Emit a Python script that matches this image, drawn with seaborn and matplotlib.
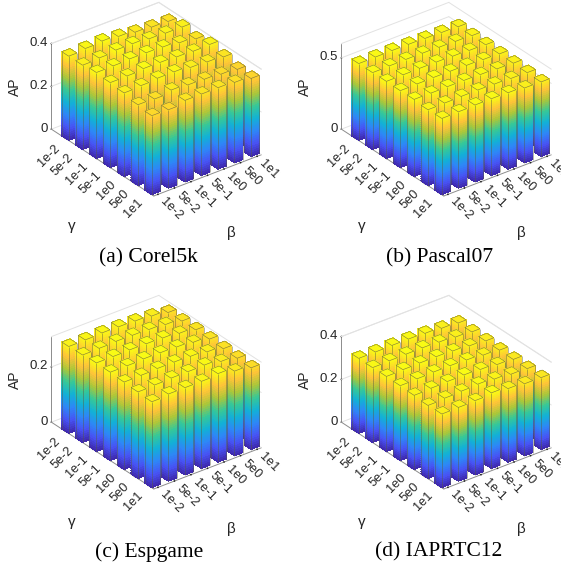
import numpy as np
import matplotlib
matplotlib.use('Agg')
import matplotlib.pyplot as plt
import seaborn as sns
from matplotlib.colors import LinearSegmentedColormap
from mpl_toolkits.mplot3d.art3d import Poly3DCollection, Line3DCollection

sns.set_theme(style='white')

param_labels = ['1e-2', '5e-2', '1e-1', '5e-1', '1e0', '5e0', '1e1']

# rows: gamma 1e-2 .. 1e1, columns: beta 1e-2 .. 1e1
corel = [[.394, .400, .405, .397, .387, .381, .378],
         [.394, .398, .405, .405, .398, .395, .394],
         [.402, .403, .406, .405, .402, .392, .381],
         [.397, .398, .403, .402, .398, .395, .397],
         [.391, .395, .400, .400, .391, .387, .381],
         [.378, .375, .387, .381, .378, .372, .365],
         [.369, .367, .381, .381, .381, .376, .365]]
pascal = [[.539, .540, .541, .540, .537, .534, .530],
          [.539, .541, .542, .541, .538, .535, .531],
          [.541, .542, .543, .542, .539, .535, .531],
          [.539, .541, .542, .541, .538, .534, .530],
          [.541, .540, .541, .540, .537, .532, .528],
          [.532, .534, .536, .536, .533, .528, .525],
          [.534, .536, .539, .539, .536, .525, .523]]
espgame = [[.315, .316, .318, .317, .315, .310, .300],
           [.317, .318, .320, .319, .317, .312, .302],
           [.321, .321, .322, .321, .319, .313, .303],
           [.320, .320, .322, .321, .319, .313, .302],
           [.317, .318, .320, .320, .318, .311, .300],
           [.314, .316, .318, .318, .319, .309, .298],
           [.311, .316, .316, .316, .321, .307, .296]]
iaprtc = [[.351, .351, .352, .352, .349, .343, .338],
          [.350, .352, .353, .353, .350, .344, .339],
          [.351, .353, .354, .354, .351, .345, .339],
          [.350, .352, .354, .354, .351, .344, .338],
          [.347, .350, .352, .353, .349, .342, .337],
          [.342, .346, .349, .352, .346, .339, .336],
          [.344, .345, .347, .354, .344, .337, .336]]

# values, z top, z ticks, z labels, caption, panel offset in pixels, caption centre in pixels
panels = [
    (corel, .40, [0, .2, .4], ['0', '0.2', '0.4'], '(a) Corel5k', (0, 0), (148, 258)),
    (pascal, .60, [0, .5], ['0', '0.5'], '(b) Pascal07', (290, 0), (440, 258)),
    (espgame, .31, [0, .2], ['0', '0.2'], '(c) Espgame', (0, 293), (149, 552)),
    (iaprtc, .40, [0, .2, .4], ['0', '0.2', '0.4'], '(d) IAPRTC12', (290, 293), (439, 552)),
]

parula = LinearSegmentedColormap.from_list('parula', [
    (0.2422, 0.1504, 0.6603), (0.2810, 0.3228, 0.9579), (0.1786, 0.5289, 0.9682),
    (0.0689, 0.6948, 0.8394), (0.2161, 0.7843, 0.5923), (0.6720, 0.7793, 0.2227),
    (0.9970, 0.7659, 0.2199), (0.9769, 0.9839, 0.0805)])

half = 0.25
n_seg = 40
edge = '#5a5a40'
fig_w, fig_h = 561, 566
ax_w, ax_h = 291, 283


def draw_bar(ax, cx, cy, h, top, order):
    # gradient sides plus the top, the colour follows the height
    zs = np.linspace(0, h, max(2, int(n_seg * h / top)) + 1)
    x0, x1 = cx - half, cx + half
    y0, y1 = cy - half, cy + half
    quads, cols = [], []
    for a, b in zip(zs[:-1], zs[1:]):
        c = parula((a + b) / 2 / top)
        # the two sides that face the camera
        quads.append([(x0, y0, a), (x0, y1, a), (x0, y1, b), (x0, y0, b)])
        quads.append([(x0, y1, a), (x1, y1, a), (x1, y1, b), (x0, y1, b)])
        cols += [c, c]
    quads.append([(x0, y0, h), (x1, y0, h), (x1, y1, h), (x0, y1, h)])
    cols.append(parula(min(h / top, 1.0)))
    poly = Poly3DCollection(quads, facecolors=cols, edgecolors='none', linewidths=0,
                            antialiaseds=False, zorder=order)
    ax.add_collection3d(poly)
    outline = [[(x0, y1, 0), (x0, y1, h)], [(x0, y0, 0), (x0, y0, h)], [(x1, y1, 0), (x1, y1, h)],
               [(x0, y0, h), (x1, y0, h)], [(x1, y0, h), (x1, y1, h)],
               [(x1, y1, h), (x0, y1, h)], [(x0, y1, h), (x0, y0, h)]]
    lines = Line3DCollection(outline, colors=edge, linewidths=0.4, alpha=0.8, zorder=order + 0.5)
    ax.add_collection3d(lines)


def draw_panel(fig, values, top, zticks, zlabels, caption, offset, cap_pos):
    left = 7 + offset[0]
    top_px = -38.5 + offset[1]
    rect = [left / fig_w, 1 - (top_px + ax_h) / fig_h, ax_w / fig_w, ax_h / fig_h]
    ax = fig.add_axes(rect, projection='3d', proj_type='ortho', computed_zorder=False)
    ax.patch.set_alpha(0)
    ax.view_init(elev=30, azim=-127.5)
    ax.set_box_aspect((403, 501, 294), zoom=0.815)
    ax.set_xlim(-.25, 6.25)
    ax.set_ylim(6.4, -1)
    ax.set_zlim(0, top)
    ax.grid(False)
    for axis in (ax.xaxis, ax.yaxis, ax.zaxis):
        axis.pane.set_visible(False)
        axis._axinfo['tick']['inward_factor'] = 0
        axis._axinfo['tick']['outward_factor'] = 0.02
        axis.line.set_color('#8c8c8c')
        axis.line.set_linewidth(0.7)

    # walls: box edges and z grid lines
    for z in zticks + [top]:
        ax.plot([-.25, 6.25], [-1, -1], [z, z], color='#e2e2e2', lw=0.7, zorder=1)
        ax.plot([6.25, 6.25], [-1, 6.4], [z, z], color='#e2e2e2', lw=0.7, zorder=1)

    idx = np.arange(len(param_labels))
    ax.set_xticks(idx)
    ax.set_yticks(idx)
    ax.set_zticks(zticks)
    ax.set_xticklabels(param_labels, rotation=-45, fontsize=9.2, color='#262626',
                       ha='left', va='center', rotation_mode='anchor')
    ax.set_yticklabels(param_labels, rotation=45, fontsize=9.2, color='#262626',
                       ha='right', va='center', rotation_mode='anchor')
    ax.set_zticklabels(zlabels, fontsize=9.5, color='#262626', ha='right', va='center')
    ax.tick_params(axis='x', pad=-4)
    ax.tick_params(axis='y', pad=-1)
    ax.tick_params(axis='z', pad=-6)
    label_dy = offset[1] + (3 if offset[1] else 0)
    ax.text2D((72 + offset[0]) / fig_w, 1 - (226 + label_dy) / fig_h, 'γ', fontsize=11,
              ha='center', va='center', color='#262626', transform=fig.transFigure)
    ax.text2D((231 + offset[0]) / fig_w, 1 - (233 + label_dy) / fig_h, 'β', fontsize=11,
              ha='center', va='center', color='#262626', transform=fig.transFigure)
    ax.text2D((15 + offset[0]) / fig_w, 1 - (87 + offset[1]) / fig_h, 'AP', fontsize=10, rotation=90,
              ha='center', va='center', color='#262626', transform=fig.transFigure)

    # back to front, the bars are painted one after the other
    vals = np.array(values)
    for i in idx:
        for j in idx[::-1]:
            draw_bar(ax, j, i, vals[i, j], vals.max(), 10 + i * 7 + (6 - j))
    fig.text(cap_pos[0] / fig_w, 1 - cap_pos[1] / fig_h, caption, family='Liberation Serif', fontsize=15.5,
             ha='center', va='center', color='black')
    return ax


plt.rcParams['font.family'] = ['Liberation Sans', 'DejaVu Sans']
fig = plt.figure(figsize=(5.61, 5.66), dpi=100)
fig.patch.set_facecolor('white')
for p in panels:
    draw_panel(fig, *p)
fig.savefig('out.png', dpi=100)
